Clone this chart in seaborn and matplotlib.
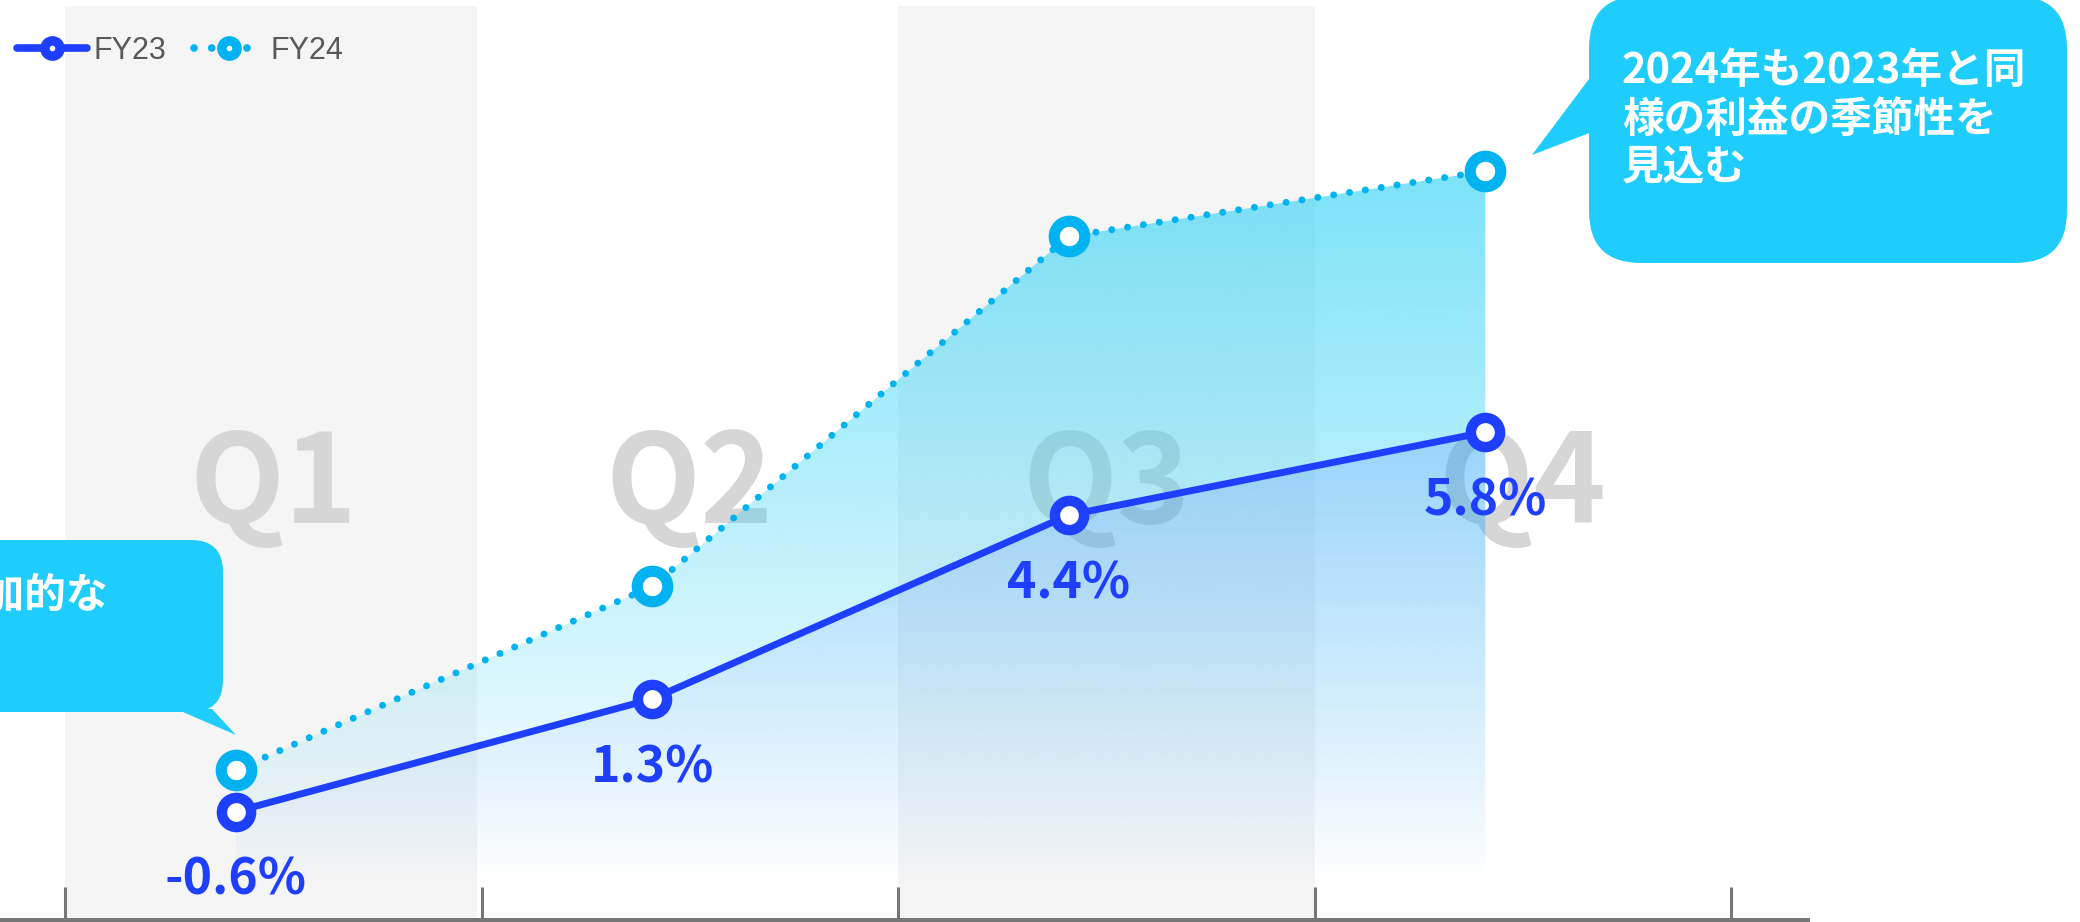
import numpy as np
import matplotlib
matplotlib.use("Agg")
import matplotlib.pyplot as plt
import matplotlib.colors as mcolors
from matplotlib.patches import FancyBboxPatch, Polygon
from matplotlib.lines import Line2D
import seaborn as sns

# data
quarters = ["Q1", "Q2", "Q3", "Q4"]
fy23 = [-0.6, 1.3, 4.4, 5.8]
fy24 = [0.1, 3.2, 9.1, 10.2]
series_names = ["FY23", "FY24"]
note_right = "2024年も2023年と同\n様の利益の季節性を\n見込む"
note_left = "追加的な"

BLUE = "#1f3fff"
CYAN = "#00b2f0"
BUBBLE = "#1ecdfc"
GREY_TXT = "#595959"
JP = ["Noto Sans CJK JP", "DejaVu Sans"]

sns.set_style("white")
plt.rcParams["font.family"] = JP

W, H = 2080, 922
fig = plt.figure(figsize=(W / 100, H / 100), dpi=100)
ax = fig.add_axes([0, 2.5 / H, 1807 / W, (919.5 - 6) / H])

x_pos = np.arange(len(quarters)) + 0.41
y_bottom = -1.82


def gradient_fill(ax, x, y, color, alpha_top, zorder):
    rgb = mcolors.to_rgb(color)
    grad = np.zeros((256, 1, 4))
    grad[:, :, :3] = rgb
    grad[:, 0, 3] = np.linspace(alpha_top, 0, 256)
    im = ax.imshow(grad, aspect="auto", origin="upper",
                   extent=[min(x), max(x), y_bottom, max(y)], zorder=zorder)
    verts = [(x[0], y_bottom)] + list(zip(x, y)) + [(x[-1], y_bottom)]
    clip = Polygon(verts, closed=True, facecolor="none", edgecolor="none")
    ax.add_patch(clip)
    im.set_clip_path(clip)


# grey quarter bands
ax.axvspan(0, 0.99, color="#f5f5f5", zorder=0, lw=0)
ax.axvspan(2, 3, color="#f5f5f5", zorder=0, lw=0)

# big quarter labels
for i, q in enumerate(quarters):
    ax.text(i + 0.5, 4.27, q, ha="center", va="baseline", fontsize=89,
            fontweight="bold", color="#d6d6d6", zorder=1)

gradient_fill(ax, x_pos, fy24, "#1ccef5", 0.58, 2)
gradient_fill(ax, x_pos, fy23, "#2040ff", 0.14, 2.1)

sns.lineplot(x=x_pos, y=fy24, ax=ax, color=CYAN, lw=5,
             linestyle=(0, (0.01, 2.3)), dash_capstyle="round",
             marker="o", markersize=22, markeredgewidth=8,
             markerfacecolor="white", markeredgecolor=CYAN, zorder=3)
sns.lineplot(x=x_pos, y=fy23, ax=ax, color=BLUE, lw=5,
             solid_capstyle="round", marker="o", markersize=21,
             markeredgewidth=7.5, markerfacecolor="white",
             markeredgecolor=BLUE, zorder=4)

for xv, v in zip(x_pos, fy23):
    ax.annotate(f"{v}%", (xv, v), xytext=(0, -60), textcoords="offset points",
                ha="center", va="baseline", fontsize=36, fontweight="bold",
                color=BLUE, zorder=5)

ax.set_xlim(-65 / 416.5, (1807 - 65) / 416.5)
ax.set_ylim(-2.42, 12.985)
ax.set_xticks(range(5))
ax.set_xticklabels([])
ax.set_yticks([])
ax.tick_params(axis="x", bottom=True, direction="in", length=23.8, width=2.2,
               color="#777777")
for s in ["left", "top", "right"]:
    ax.spines[s].set_visible(False)
ax.spines["bottom"].set_color("#777777")
ax.spines["bottom"].set_linewidth(3.6)
ax.patch.set_alpha(0)

# legend
handles = [
    Line2D([], [], color=BLUE, lw=5.5, solid_capstyle="round", marker="o",
           ms=11, mew=6.8, mfc="white", mec=BLUE),
    Line2D([], [], color=CYAN, lw=5.5, linestyle=(0, (0.01, 2.3)),
           dash_capstyle="round", marker="o", ms=11, mew=6.8, mfc="white",
           mec=CYAN),
]
ax.legend(handles, series_names, loc="center left",
          bbox_to_anchor=(17 / W, 1 - 51 / H), bbox_transform=fig.transFigure,
          frameon=False, borderpad=0, borderaxespad=0, ncol=2,
          handlelength=2.3, handletextpad=0.2, columnspacing=0.9,
          prop={"family": "Liberation Sans", "size": 22},
          labelcolor=GREY_TXT)

# callouts drawn in pixel space
ov = fig.add_axes([0, 0, 1, 1], zorder=10)
ov.set_xlim(0, W)
ov.set_ylim(H, 0)
ov.axis("off")

ov.add_patch(FancyBboxPatch((1589, -4), 478, 267,
                            boxstyle="round,pad=0,rounding_size=52",
                            facecolor=BUBBLE, edgecolor="none"))
ov.add_patch(Polygon([(1592, 75), (1592, 132), (1532, 155)], closed=True,
                     facecolor=BUBBLE, edgecolor="none"))
ov.text(1622, 50, note_right, ha="left", va="top", fontsize=30,
        fontweight="bold", color="white", linespacing=1.2)

ov.add_patch(FancyBboxPatch((-300, 540), 523, 172,
                            boxstyle="round,pad=0,rounding_size=32",
                            facecolor=BUBBLE, edgecolor="none"))
ov.add_patch(Polygon([(176, 709), (212, 709), (236, 735)], closed=True,
                     facecolor=BUBBLE, edgecolor="none"))
ov.text(108, 595, note_left, ha="right", va="center", fontsize=30,
        fontweight="bold", color="white")

fig.savefig("out.png", dpi=100)
